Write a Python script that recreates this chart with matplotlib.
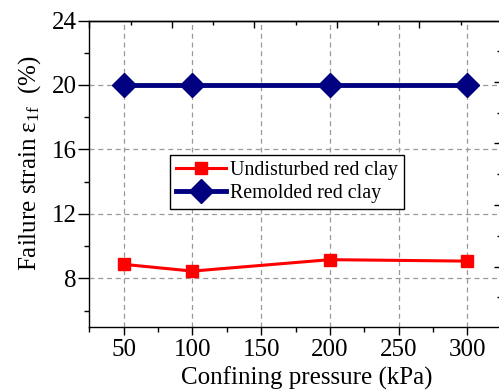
import matplotlib
matplotlib.use("Agg")
import matplotlib.pyplot as plt
from matplotlib.ticker import MultipleLocator, FixedLocator

plt.rcParams['font.family'] = ['Liberation Serif', 'DejaVu Serif']
plt.rcParams['mathtext.fontset'] = 'custom'
plt.rcParams['mathtext.rm'] = 'Liberation Serif'
plt.rcParams['mathtext.it'] = 'Liberation Serif:italic'

# data
pressure = [50, 100, 200, 300]
undisturbed = [8.87, 8.45, 9.16, 9.07]
remolded = [20, 20, 20, 20]

fig = plt.figure(figsize=(4.99, 3.92), dpi=100)
ax = fig.add_axes([0.179, 0.1666, 0.824, 0.781])

ax.plot(pressure, undisturbed, color="red", lw=2.2, marker="s", ms=9,
        label="Undisturbed red clay", zorder=3)
ax.plot(pressure, remolded, color="#000080", lw=3.5, marker="D", ms=12,
        label="Remolded red clay", zorder=3)

ax.set_xlim(25, 324)
ax.set_ylim(5, 24)
ax.xaxis.set_major_locator(MultipleLocator(50))
ax.xaxis.set_minor_locator(MultipleLocator(25))
ax.yaxis.set_major_locator(MultipleLocator(4))
ax.yaxis.set_minor_locator(MultipleLocator(2))
ax.tick_params(axis="x", which="major", direction="out", length=6, width=1,
               labelsize=18, pad=3)
ax.tick_params(axis="x", which="minor", direction="out", length=3.5, width=1)
ax.tick_params(axis="y", which="major", direction="out", length=8, width=1,
               labelsize=18, pad=1)
ax.tick_params(axis="y", which="minor", direction="out", length=3.5, width=1)

ax.grid(True, which="major", color="#999999", ls=(0, (4, 3)), lw=0.9)

ax.set_xlabel("Confining pressure (kPa)", fontsize=18)
ax.set_ylabel("Failure strain ε$_{\\mathrm{1f}}$  (%)", fontsize=18)
ax.xaxis.set_label_coords(0.528, -0.13)
ax.yaxis.set_label_coords(-0.113, 0.535)

for s in ax.spines.values():
    s.set_linewidth(1)
ax.spines["right"].set_visible(False)

# top ticks (inward)
top = ax.secondary_xaxis("top")
top.xaxis.set_major_locator(FixedLocator([25, 85, 145, 205, 265]))
top.xaxis.set_minor_locator(FixedLocator([55, 115, 175, 235, 295]))
top.tick_params(which="major", direction="in", length=5, width=1, labeltop=False)
top.tick_params(which="minor", direction="in", length=3, width=1)
top.spines["top"].set_linewidth(1)

# right ticks (inward)
right = ax.secondary_yaxis("right")
right.yaxis.set_major_locator(FixedLocator([8.73, 12.55, 16.37, 20.19]))
right.yaxis.set_minor_locator(FixedLocator([6.82, 10.64, 14.46, 18.28, 22.1]))
right.tick_params(which="major", direction="in", length=4, width=1, labelright=False)
right.tick_params(which="minor", direction="in", length=2, width=1)
right.spines["right"].set_visible(False)

leg = ax.legend(loc="upper left", bbox_to_anchor=(0.196, 0.56), fontsize=14.4,
                handlelength=2.5, handletextpad=0.2, borderpad=0.3,
                labelspacing=0.2, fancybox=False, framealpha=1,
                edgecolor="black", borderaxespad=0)
leg.get_frame().set_linewidth(1)

fig.savefig("out.png", dpi=100)
